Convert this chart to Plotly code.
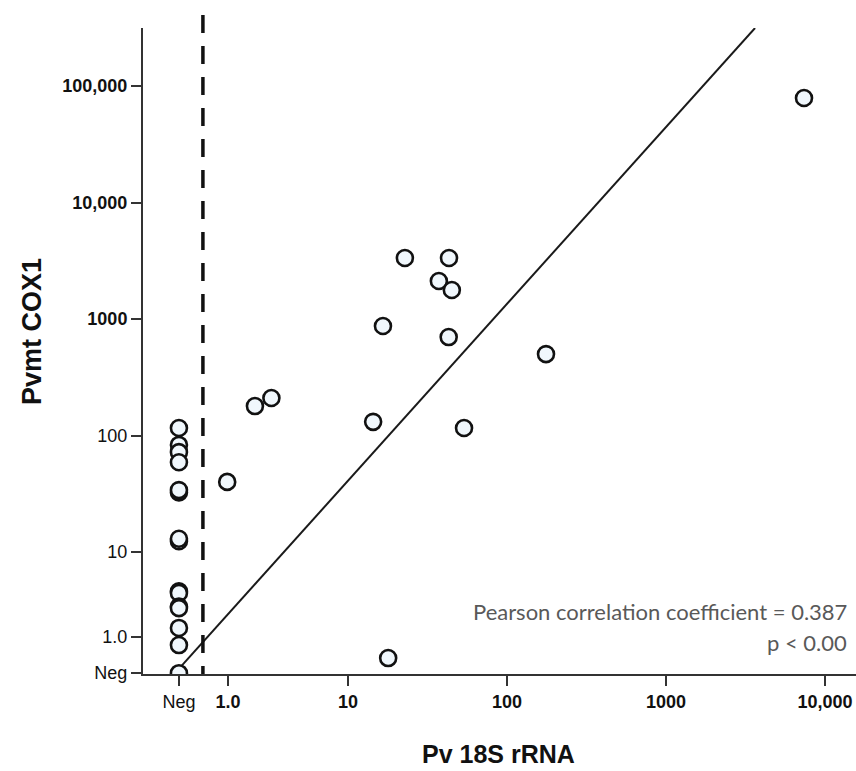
import math
import plotly.graph_objects as go

# ---------------- data ----------------
# Points with a detectable Pv 18S rRNA value
pv18s_x = [1.74, 2.6, 3.3, 14.4, 16.6, 22.8, 37.3, 43.2, 45.0, 43.0, 53.7, 176, 7380, 17.9]
cox1_y = [40, 179, 210, 131, 871, 3340, 2120, 3340, 1775, 700, 116, 500, 78900, 1.23]

# Points negative for Pv 18S rRNA (plotted in the "Neg" column)
neg_col_y = [116, 83, 72, 59, 32.5, 34.0, 12.4, 13.0, 4.6, 4.45, 3.4, 3.3, 2.23, 1.59, "Neg"]

# Axis ticks (log-scale positions of the broken low end)
x_tick_vals = [10 ** -0.063, 10 ** 0.245, 10, 100, 1000, 10000]
x_tick_text = ["Neg", "<b>1.0</b>", "<b>10</b>", "<b>100</b>", "<b>1000</b>", "<b>10,000</b>"]
y_tick_vals = [10 ** -0.04, 10 ** 0.27, 10, 100, 1000, 10000, 100000]
y_tick_text = ["Neg", "1.0", "10", "100", "<b>1000</b>", "<b>10,000</b>", "<b>100,000</b>"]

NEG_X = x_tick_vals[0]
NEG_Y = y_tick_vals[0]

# Regression line in log-log space: log10(y) = a + b*log10(x)
fit_intercept = 0.0936
fit_slope = 1.518
fit_x_span = [0.817, 3631]

# Negative cut-off (dashed vertical line) on the Pv 18S axis
cutoff_x = 1.224

x_range_log = [-0.289, 4.195]
y_range_log = [-0.047, 5.498]

# ---------------- figure ----------------
def ymap(v):
    return NEG_Y if v == "Neg" else v

marker = dict(symbol="circle", size=16, color="rgb(240,247,252)",
              line=dict(color="#111111", width=2.6))

fig = go.Figure()

fit_y = [10 ** (fit_intercept + fit_slope * math.log10(x)) for x in fit_x_span]
fig.add_trace(go.Scatter(x=fit_x_span, y=fit_y, mode="lines",
                         line=dict(color="#1a1a1a", width=2), hoverinfo="skip"))

fig.add_trace(go.Scatter(x=[NEG_X] * len(neg_col_y), y=[ymap(v) for v in neg_col_y],
                         mode="markers", marker=marker))
fig.add_trace(go.Scatter(x=pv18s_x, y=cox1_y, mode="markers", marker=marker))

cut_paper = (math.log10(cutoff_x) - x_range_log[0]) / (x_range_log[1] - x_range_log[0])
fig.add_shape(type="line", xref="paper", yref="paper",
              x0=cut_paper, x1=cut_paper, y0=1.0201, y1=0.0,
              line=dict(color="#111111", width=3.5, dash="18px,13px"))

axis_common = dict(showgrid=False, zeroline=False, showline=True, linecolor="#333333",
                   linewidth=2, ticks="outside", ticklen=10, tickwidth=2,
                   tickcolor="#333333", type="log",
                   tickfont=dict(family="Liberation Sans, Arial, sans-serif", size=18, color="#111111"))

fig.update_xaxes(range=x_range_log, tickmode="array", tickvals=x_tick_vals,
                 ticktext=x_tick_text, **axis_common)
fig.update_yaxes(range=y_range_log, tickmode="array", tickvals=y_tick_vals,
                 ticktext=y_tick_text, **axis_common)

title_font = dict(family="Liberation Sans, Arial, sans-serif", size=25, color="#111111")
fig.add_annotation(text="<b>Pv 18S rRNA</b>", xref="paper", yref="paper",
                   x=0.498, y=-0.1235, showarrow=False, font=title_font,
                   xanchor="center", yanchor="middle")
fig.add_annotation(text="<b>Pvmt COX1</b>", xref="paper", yref="paper",
                   x=-0.1557, y=0.531, showarrow=False, textangle=-90,
                   font=dict(family="Liberation Sans, Arial, sans-serif", size=27, color="#111111"),
                   xanchor="center", yanchor="middle")

stat_font = dict(family="Lato, Open Sans, sans-serif", size=22, color="#595959")
fig.add_annotation(text="Pearson correlation coefficient = 0.387", xref="paper", yref="paper",
                   x=0.990, y=0.0975, showarrow=False, font=stat_font,
                   xanchor="right", yanchor="middle")
fig.add_annotation(text="p < 0.00", xref="paper", yref="paper",
                   x=0.990, y=0.048, showarrow=False, font=stat_font,
                   xanchor="right", yanchor="middle")

fig.update_layout(width=856, height=771, showlegend=False,
                  plot_bgcolor="white", paper_bgcolor="white",
                  margin=dict(l=143, r=0, t=28, b=97))

fig.write_html("out.html", config={"displayModeBar": False},
               post_script="document.body.style.margin='0px';document.body.style.overflow='hidden';")
